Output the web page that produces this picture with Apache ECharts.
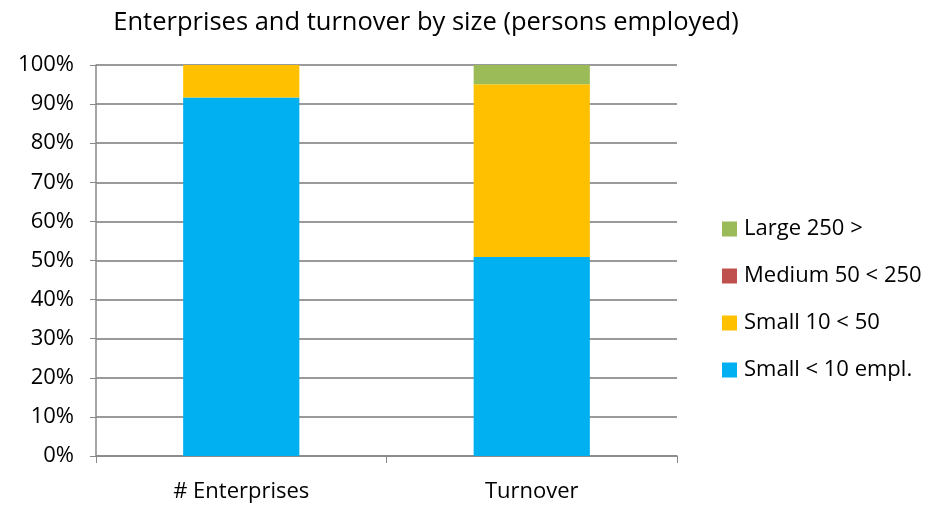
<!DOCTYPE html>
<html>
<head>
<meta charset="utf-8">
<script src="https://cdn.jsdelivr.net/npm/echarts@6/dist/echarts.min.js"></script>
<style>
  html, body { margin: 0; padding: 0; background: #fff; }
  #chart { width: 932px; height: 509px; }
</style>
</head>
<body>
<div id="chart"></div>
<script>
// categories and shares (% of total)
const categories = ["# Enterprises", "Turnover"];
const small10 = [91.7, 50.9];
const small50 = [8.3, 44.2];
const medium = [0, 0];
const large = [0, 4.9];
const yTicks = [0, 10, 20, 30, 40, 50, 60, 70, 80, 90, 100];

const font = "'Open Sans', 'Liberation Sans', sans-serif";

let myChart = echarts.init(document.getElementById("chart"));

let option = {
  animation: false,
  title: {
    text: "Enterprises and turnover by size (persons employed)",
    left: 421,
    textAlign: "center",
    top: 5,
    textStyle: { fontFamily: font, fontSize: 25.5, fontWeight: "normal", color: "#000" },
  },
  legend: {
    orient: "vertical",
    left: 717,
    top: 213,
    itemGap: 25,
    itemWidth: 15,
    itemHeight: 15,
    icon: "rect",
    data: ["Large 250 >", "Medium 50 < 250", "Small 10 < 50", "Small < 10 empl."],
    textStyle: { fontFamily: font, fontSize: 22, color: "#000", padding: [0, 0, 0, 2] },
  },
  grid: { left: 96, right: 255, top: 65, bottom: 53 },
  xAxis: {
    type: "category",
    data: categories,
    axisLine: { lineStyle: { color: "#888", width: 1.5 } },
    axisTick: { show: true, length: 7, lineStyle: { color: "#888" } },
    axisLabel: { fontFamily: font, fontSize: 22, color: "#000", margin: 25 },
  },
  yAxis: {
    type: "value",
    min: 0,
    max: 100,
    interval: 10,
    axisLine: { show: true, lineStyle: { color: "#888", width: 1.5 } },
    axisTick: { show: true, length: 6, lineStyle: { color: "#888" } },
    splitLine: { lineStyle: { color: "#9a9a9a", width: 2 } },
    axisLabel: {
      fontFamily: font,
      fontSize: 22,
      color: "#000",
      margin: 22,
      formatter: (v) => (yTicks.includes(v) ? v + "%" : ""),
    },
  },
  series: [
    { name: "Small < 10 empl.", type: "bar", stack: "Total", barWidth: "40%", data: small10, itemStyle: { color: "#00b0f0" } },
    { name: "Small 10 < 50", type: "bar", stack: "Total", data: small50, itemStyle: { color: "#ffc000" } },
    { name: "Medium 50 < 250", type: "bar", stack: "Total", data: medium, itemStyle: { color: "#c0504d" } },
    { name: "Large 250 >", type: "bar", stack: "Total", data: large, itemStyle: { color: "#9bbb59" } },
  ],
};
myChart.setOption(option);
</script>
</body>
</html>
